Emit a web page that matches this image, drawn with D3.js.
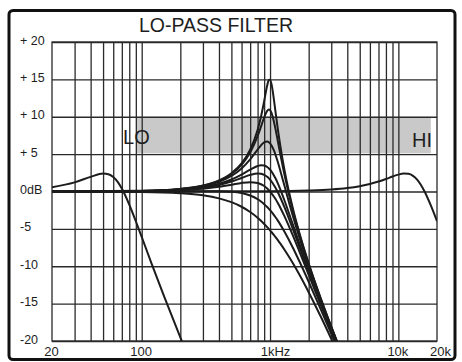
<!DOCTYPE html>
<html>
<head>
<meta charset="utf-8">
<script src="https://cdn.jsdelivr.net/npm/d3@7/dist/d3.min.js"></script>
<style>
  html, body { margin: 0; padding: 0; background: #fff; }
  svg { display: block; }
  text { font-family: "Liberation Sans", Arial, sans-serif; fill: #1e1e1e; }
</style>
</head>
<body>
<svg id="chart" width="462" height="362"></svg>
<script>
// ---- data ----
const title = "LO-PASS FILTER";
const yTicks = [20, 15, 10, 5, 0, -5, -10, -15, -20];
const yLabels = ["+ 20", "+ 15", "+ 10", "+ 5", "0dB", "-5", "-10", "-15", "-20"];
const xLabelTicks = [20, 100, 1000, 10000, 20000];
const xLabels = ["20", "100", "1kHz", "10k", "20k"];
const xGrid = [30, 40, 50, 60, 70, 80, 90, 100, 200, 300, 400, 500, 600, 700, 800, 900,
               1000, 2000, 3000, 4000, 5000, 6000, 7000, 8000, 9000, 10000];
const bandHz = [92, 17900];
const bandDb = [5.1, 10];
const bandLabels = ["LO", "HI"];

// centre curves around 1 kHz, different resonance settings
const midHz = [20, 100, 200, 300, 400, 500, 600, 700, 800, 850, 900, 950, 980, 1000,
               1030, 1070, 1100, 1150, 1200, 1300, 1500, 1700, 2000, 2500, 3000, 3500];
const res15 = [0, 0.09, 0.35, 0.8, 1.48, 2.44, 3.76, 5.6, 8.24, 10.0, 12.08, 14.17, 14.92, 14.96,
               14.26, 12.4, 10.83, 8.35, 6.21, 2.76, -2.13, -5.64, -9.6, -14.43, -18.08, -21.04];
const res11 = [0, 0.08, 0.34, 0.78, 1.43, 2.34, 3.58, 5.23, 7.4, 8.67, 9.9, 10.8, 10.97, 10.88,
               10.44, 9.41, 8.45, 6.74, 5.07, 2.12, -2.42, -5.81, -9.7, -14.48, -18.11, -21.06];
const res6 = [0, 0.08, 0.31, 0.71, 1.3, 2.08, 3.09, 4.3, 5.61, 6.18, 6.58, 6.69, 6.59, 6.44,
              6.12, 5.52, 4.97, 3.94, 2.84, 0.66, -3.17, -6.26, -9.96, -14.62, -18.2, -21.12];
const res3 = [0, 0.06, 0.26, 0.58, 1.04, 1.61, 2.27, 2.92, 3.41, 3.51, 3.47, 3.28, 3.08, 2.92,
              2.64, 2.18, 1.8, 1.09, 0.32, -1.27, -4.33, -7.03, -10.43, -14.88, -18.36, -21.23];
const res2 = [0, 0.06, 0.23, 0.5, 0.88, 1.33, 1.81, 2.22, 2.41, 2.37, 2.23, 1.96, 1.75, 1.58,
              1.3, 0.88, 0.53, -0.1, -0.77, -2.17, -4.95, -7.47, -10.71, -15.04, -18.47, -21.31];
const res0 = [0, 0.04, 0.17, 0.37, 0.63, 0.9, 1.14, 1.25, 1.14, 0.97, 0.73, 0.4, 0.17, 0,
              -0.27, -0.67, -0.98, -1.54, -2.13, -3.36, -5.81, -8.1, -11.14, -15.29, -18.63, -21.42];
const damp3 = [0, 0.01, 0.03, 0.05, 0.04, -0.03, -0.21, -0.54, -1.03, -1.34, -1.69, -2.08, -2.33, -2.5,
               -2.76, -3.13, -3.41, -3.9, -4.4, -5.42, -7.45, -9.4, -12.07, -15.87, -19.03, -21.71];
const damp5 = [0, -0.06, -0.23, -0.51, -0.92, -1.43, -2.04, -2.74, -3.51, -3.92, -4.34, -4.76, -5.02, -5.19,
               -5.45, -5.8, -6.07, -6.51, -6.95, -7.83, -9.54, -11.18, -13.47, -16.83, -19.72, -22.23];

// lowest sweep setting
const loHz = [20, 30, 40, 50, 55, 60, 65, 70, 80, 90, 100, 120, 150, 200, 230];
const loDb = [0.56, 1.22, 1.96, 2.41, 2.32, 1.95, 1.29, 0.4, -1.75, -3.98, -6.08, -9.74, -14.11, -19.51, -22.08];
// highest sweep setting
const hiHz = [20, 1000, 2000, 3000, 4000, 5000, 6000, 7000, 8000, 9000, 10000, 11000, 12000, 13000,
              14000, 16000, 18000, 20000];
const hiDb = [0, 0.03, 0.12, 0.26, 0.46, 0.71, 1.0, 1.33, 1.67, 2.0, 2.26, 2.4, 2.36, 2.09,
              1.58, 0, -1.97, -3.98];

// ---- drawing ----
const svg = d3.select("#chart");
const L = 52, R = 437, T = 42, B = 341;
const x = d3.scaleLog().domain([20, 20000]).range([L, R]);
const y = d3.scaleLinear().domain([-20, 20]).range([B, T]);

// outer frame
svg.append("rect")
  .attr("x", 9).attr("y", 10.5).attr("width", 446).attr("height", 349)
  .attr("rx", 4).attr("fill", "#fff").attr("stroke", "#111").attr("stroke-width", 3);

// title
svg.append("text")
  .attr("x", 216).attr("y", 32)
  .attr("text-anchor", "middle")
  .style("font-size", "19.5px")
  .text(title);

// band
svg.append("rect")
  .attr("x", x(bandHz[0])).attr("y", y(bandDb[1]))
  .attr("width", x(bandHz[1]) - x(bandHz[0]))
  .attr("height", y(bandDb[0]) - y(bandDb[1]))
  .attr("fill", "#c9c9c9");

// grid via axes
const gridColor = "#2a2a2a";
const vGrid = svg.append("g").attr("transform", `translate(0,${B})`)
  .call(d3.axisBottom(x).tickValues(xGrid).tickSize(-(B - T)).tickFormat(""));
const hGrid = svg.append("g").attr("transform", `translate(${L},0)`)
  .call(d3.axisLeft(y).tickValues(yTicks).tickSize(-(R - L)).tickFormat(""));
[vGrid, hGrid].forEach(g => {
  g.select(".domain").remove();
  g.selectAll(".tick line").attr("stroke", gridColor).attr("stroke-width", 1.3);
});

// plot border
svg.append("rect")
  .attr("x", L).attr("y", T).attr("width", R - L).attr("height", B - T)
  .attr("fill", "none").attr("stroke", gridColor).attr("stroke-width", 1.3);

// band labels
svg.append("text").attr("x", x(bandHz[0]) - 14).attr("y", 144)
  .style("font-size", "20px").text(bandLabels[0]);
svg.append("text").attr("x", R - 5).attr("y", 147).attr("text-anchor", "end")
  .style("font-size", "20px").text(bandLabels[1]);

// y labels
const yAx = svg.append("g").attr("transform", `translate(${L},0)`)
  .call(d3.axisLeft(y).tickValues(yTicks).tickSize(0).tickFormat((d, i) => yLabels[i]));
yAx.select(".domain").remove();
yAx.selectAll(".tick text")
  .attr("x", 20 - L).attr("dy", "2px").attr("text-anchor", "start")
  .attr("fill", "#1e1e1e")
  .style("font-size", "12.5px")
  .style("font-family", "'Liberation Sans', Arial, sans-serif")
  .attr("dominant-baseline", "auto");

// x labels
const xAx = svg.append("g").attr("transform", `translate(0,${B})`)
  .call(d3.axisBottom(x).tickValues(xLabelTicks).tickSize(0).tickFormat((d, i) => xLabels[i]));
xAx.select(".domain").remove();
xAx.selectAll(".tick text")
  .attr("y", 14.5).attr("dy", 0)
  .attr("fill", "#1e1e1e")
  .style("font-size", "13px")
  .style("font-family", "'Liberation Sans', Arial, sans-serif")
  .attr("dx", d => d === 1000 ? 5 : (d === 20000 ? 3 : (d === 20 ? -1 : -1)));

// curves
svg.append("clipPath").attr("id", "plotclip")
  .append("rect").attr("x", L).attr("y", T - 2).attr("width", R - L).attr("height", B - T + 2);

const line = d3.line()
  .x(d => x(d[0])).y(d => y(d[1]))
  .curve(d3.curveMonotoneX);

const curves = [
  d3.zip(loHz, loDb),
  d3.zip(hiHz, hiDb),
  ...[res15, res11, res6, res3, res2, res0, damp3, damp5].map(s => d3.zip(midHz, s))
];

svg.append("g").attr("clip-path", "url(#plotclip)")
  .selectAll("path").data(curves).join("path")
  .attr("d", line)
  .attr("fill", "none")
  .attr("stroke", "#1c1c1c")
  .attr("stroke-width", 2)
  .attr("stroke-linejoin", "round");
</script>
</body>
</html>
